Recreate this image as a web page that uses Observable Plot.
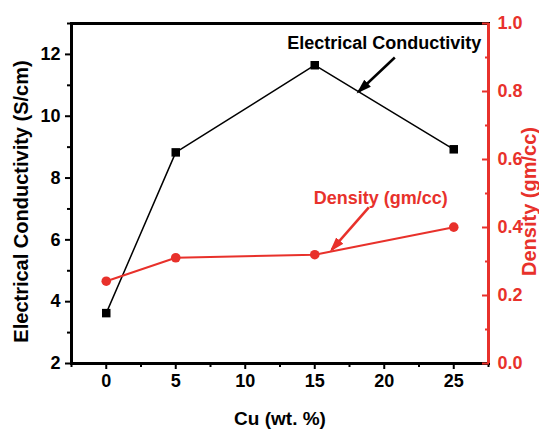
<!DOCTYPE html>
<html><head><meta charset="utf-8">
<script src="https://cdn.jsdelivr.net/npm/d3@7"></script>
<script src="https://cdn.jsdelivr.net/npm/@observablehq/plot@0.6"></script>
<style>body{margin:0;background:#fff}#chart{width:539px;height:429px}</style>
</head><body><div id="chart"></div>
<script>
const cuContent = [0, 5, 15, 25];
const conductivity = [3.63, 8.83, 11.65, 8.93];
const density = [0.242, 0.311, 0.320, 0.401];
const xTicks = [0, 5, 10, 15, 20, 25];
const xMinorTicks = [-2.5, 2.5, 7.5, 12.5, 17.5, 22.5, 27.5];
const condTicks = [2, 4, 6, 8, 10, 12];
const condMinorTicks = [3, 5, 7, 9, 11, 13];
const densTicks = [0, 0.2, 0.4, 0.6, 0.8, 1.0];
const densMinorTicks = [0.1, 0.3, 0.5, 0.7, 0.9];
const xDomain = [-2.5, 27.5];
const condDomain = [2, 13];
const densDomain = [0, 1];
const xTitle = "Cu (wt. %)";
const condTitle = "Electrical Conductivity (S/cm)";
const densTitle = "Density (gm/cc)";
const condNote = {text: "Electrical Conductivity", x: 20.0, y: 12.36, x1: 20.76, y1: 11.90, x2: 18.17, y2: 10.80};
const densNote = {text: "Density (gm/cc)", x: 19.75, y: 0.485, x1: 18.89, y1: 0.459, x2: 16.23, y2: 0.335};

const RED = "#e8312b";
const FONT = "'Liberation Sans', Arial, Helvetica, sans-serif";
const k = (condDomain[1] - condDomain[0]) / (densDomain[1] - densDomain[0]);
const toCond = d => condDomain[0] + (d - densDomain[0]) * k;
const fromCond = v => densDomain[0] + (v - condDomain[0]) / k;

const ecRows = cuContent.map((x, i) => ({x, y: conductivity[i]}));
const dRows = cuContent.map((x, i) => ({x, y: toCond(density[i])}));
const densNoteC = {...densNote, y: toCond(densNote.y), y1: toCond(densNote.y1), y2: toCond(densNote.y2)};

const plot = Plot.plot({
  width: 539, height: 429,
  marginLeft: 71, marginRight: 51, marginTop: 23, marginBottom: 66,
  x: {domain: xDomain},
  y: {domain: condDomain},
  style: {fontFamily: FONT, fontWeight: "bold", background: "white", color: "black"},
  marks: [
    Plot.frame({stroke: "black", strokeWidth: 3}),
    Plot.ruleX([xDomain[1]], {stroke: RED, strokeWidth: 3}),
    // x axis
    Plot.axisX(xTicks, {anchor: "bottom", tickSize: 6, tickPadding: 5, strokeWidth: 2, fontSize: 18, fontWeight: "bold", fill: "black", label: null}),
    Plot.axisX(xMinorTicks, {anchor: "bottom", tickSize: 4, strokeWidth: 2, tickFormat: () => "", label: null}),
    // left axis
    Plot.axisY(condTicks, {anchor: "left", tickSize: 6, tickPadding: 5, strokeWidth: 2, fontSize: 18, fontWeight: "bold", fill: "black", label: null}),
    Plot.axisY(condMinorTicks, {anchor: "left", tickSize: 4, strokeWidth: 2, tickFormat: () => "", label: null}),
    // right axis (density)
    Plot.axisY(densTicks.map(toCond), {anchor: "right", tickSize: 0, tickPadding: 9, fontSize: 18, fontWeight: "bold", fill: RED, tickFormat: v => d3.format(".1f")(fromCond(v)), label: null}),
    Plot.axisY(densTicks.map(toCond), {anchor: "right", tickSize: 7, dx: -7, stroke: RED, strokeWidth: 2, tickFormat: () => "", label: null}),
    Plot.axisY(densMinorTicks.map(toCond), {anchor: "right", tickSize: 4, dx: -4, stroke: RED, strokeWidth: 2, tickFormat: () => "", label: null}),
    // axis titles
    Plot.text([condTitle], {text: d => d, frameAnchor: "left", rotate: -90, dx: -44, dy: 8, textAnchor: "middle", lineAnchor: "bottom", fontSize: 20, fontWeight: "bold", fill: "black"}),
    Plot.text([densTitle], {text: d => d, frameAnchor: "right", rotate: -90, dx: 47, dy: 8, textAnchor: "middle", lineAnchor: "bottom", fontSize: 20, fontWeight: "bold", fill: RED}),
    Plot.text([xTitle], {text: d => d, frameAnchor: "bottom", dy: 61, textAnchor: "middle", lineAnchor: "bottom", fontSize: 19, fontWeight: "bold", fill: "black"}),
    // data
    Plot.line(ecRows, {x: "x", y: "y", stroke: "black", strokeWidth: 1.5}),
    Plot.dot(ecRows, {x: "x", y: "y", symbol: "square", r: 4.8, fill: "black"}),
    Plot.line(dRows, {x: "x", y: "y", stroke: RED, strokeWidth: 2}),
    Plot.dot(dRows, {x: "x", y: "y", r: 4.8, fill: RED}),
    // annotations
    Plot.text([condNote], {x: "x", y: "y", text: "text", fontSize: 18, fontWeight: "bold", fill: "black", textAnchor: "middle", lineAnchor: "middle"}),
    Plot.link([condNote], {x1: "x1", y1: "y1", x2: "x2", y2: "y2", stroke: "black", strokeWidth: 2.5}),
    Plot.text([densNoteC], {x: "x", y: "y", text: "text", fontSize: 18, fontWeight: "bold", fill: RED, textAnchor: "middle", lineAnchor: "middle"}),
    Plot.link([densNoteC], {x1: "x1", y1: "y1", x2: "x2", y2: "y2", stroke: RED, strokeWidth: 2.5})
  ]
});

// filled arrowheads on the annotation links
const NS = "http://www.w3.org/2000/svg";
const defs = document.createElementNS(NS, "defs");
function addMarker(id, color) {
  const m = document.createElementNS(NS, "marker");
  m.setAttribute("id", id);
  m.setAttribute("viewBox", "0 -6 16 12");
  m.setAttribute("refX", "12");
  m.setAttribute("refY", "0");
  m.setAttribute("markerUnits", "userSpaceOnUse");
  m.setAttribute("markerWidth", "16");
  m.setAttribute("markerHeight", "12");
  m.setAttribute("orient", "auto");
  const p = document.createElementNS(NS, "path");
  p.setAttribute("d", "M0,-4.8L15,0L0,4.8Z");
  p.setAttribute("fill", color);
  m.appendChild(p);
  defs.appendChild(m);
}
addMarker("ah-black", "black");
addMarker("ah-red", RED);
plot.insertBefore(defs, plot.firstChild);
plot.querySelectorAll('g[aria-label="link"]').forEach(g => {
  const isRed = (g.getAttribute("stroke") || "").toLowerCase() === RED;
  g.querySelectorAll("path").forEach(p => p.setAttribute("marker-end", isRed ? "url(#ah-red)" : "url(#ah-black)"));
});

document.getElementById("chart").appendChild(plot);
</script>
</body></html>
